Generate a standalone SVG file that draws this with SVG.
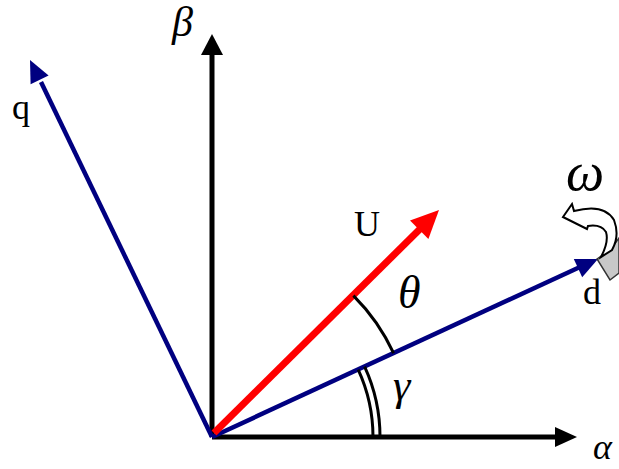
<svg xmlns="http://www.w3.org/2000/svg" width="619" height="469" viewBox="0 0 619 469">
<style>
.ax{stroke:#000;stroke-width:5;fill:none}
.bl{stroke:#000080;stroke-width:4.5;fill:none}
.rd{stroke:#ff0000;stroke-width:7;fill:none}
.arc{stroke:#000;stroke-width:3;fill:none}
.g{font-family:"Liberation Serif","DejaVu Serif",serif;font-style:italic;fill:#000}
.t{font-family:"Liberation Serif","DejaVu Serif",serif;fill:#000}
</style>
<rect width="619" height="469" fill="#fff"/>
<g id="connectors">
<line class="ax" x1="212" y1="437" x2="558" y2="437"/>
<polygon points="555,427 577,437 555,447" fill="#000"/>
<line class="ax" x1="212" y1="437" x2="212" y2="52"/>
<polygon points="201,55 212,34 223,55" fill="#000"/>
<line class="bl" x1="212" y1="437" x2="41" y2="82"/>
<polygon points="48.6,75.5 30,60 30.6,84.2" fill="#000080"/>
<line class="bl" x1="212" y1="437" x2="580" y2="267"/>
<polygon points="582.2,277.3 598,259 573.8,259.1" fill="#000080"/>
<line class="rd" x1="214" y1="433" x2="421" y2="228"/>
<polygon points="428.4,239 439,210 410,220.6" fill="#ff0000"/>
<path class="arc" d="M353.4,295.6 A200,200 0 0 1 393.6,353.2"/>
<path class="arc" d="M373,437 A161,161 0 0 0 358.2,369.6"/>
<path class="arc" d="M380,437 A168,168 0 0 0 364.6,366.6"/>
</g>
<g id="omega-rotation">
<path d="M597,259 L611,249 L619,238 L619,273 L610,280 Z" fill="#c8c8c8" stroke="#333" stroke-width="1.5"/>
<path d="M563,217 L572,204 L574,211 Q604,203 614,220 Q620,236 612,250 L601,257 Q609,242 606,232 Q601,224 588,226 L587,229 Z" fill="#fff" stroke="#000" stroke-width="2"/>
</g>
<g id="labels">
<text class="g" x="172" y="36" font-size="42">β</text>
<text class="t" x="12" y="119" font-size="36">q</text>
<text class="t" x="354" y="236" font-size="36">U</text>
<text class="g" x="398" y="308" font-size="46">θ</text>
<text class="g" x="393" y="400" font-size="44">γ</text>
<text class="t" x="583" y="304" font-size="36">d</text>
<text class="g" x="566" y="190" font-size="54">ω</text>
<text class="g" x="612" y="459" font-size="36" text-anchor="end">α</text>
</g>
</svg>
